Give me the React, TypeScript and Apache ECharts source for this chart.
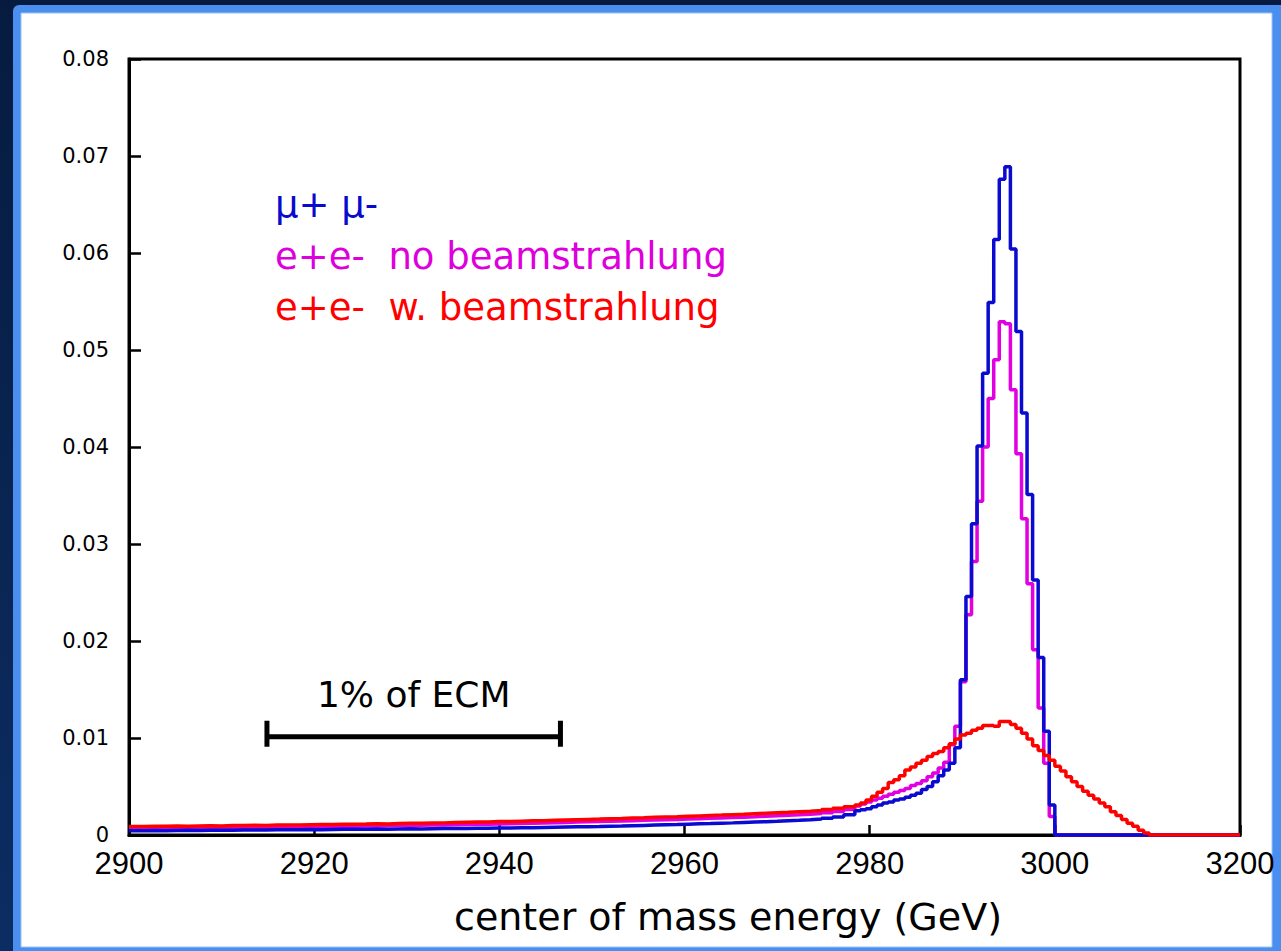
import React, { useEffect, useRef } from "react";
import * as echarts from "echarts";

// ---- axes ----
const X_MIN = 2900;
const X_MAX = 3020;
const X_INTERVAL = 20;
const X_TICK_LABELS = ["2900", "2920", "2940", "2960", "2980", "3000", "3200"];
const Y_MIN = 0;
const Y_MAX = 0.08;
const Y_INTERVAL = 0.01;
const X_TITLE = "center of mass energy (GeV)";

// ---- histogram binning ----
const TAIL_START = 2900.4; // coarse bins in the flat tail
const TAIL_BIN = 1.2;
const PEAK_START = 2978.4; // fine bins in the peak region
const PEAK_BIN = 0.6;

// mu+ mu-
const MUMU_TAIL = [
  0.00045, 0.00046, 0.00045, 0.00047, 0.00048, 0.00047, 0.00049, 0.0005, 0.00049, 0.00051,
  0.00052, 0.00052, 0.00054, 0.00053, 0.00055, 0.00056, 0.00055, 0.00057, 0.00058, 0.00059,
  0.0006, 0.00061, 0.0006, 0.00062, 0.00064, 0.00063, 0.00065, 0.00066, 0.00067, 0.00068,
  0.00069, 0.0007, 0.00072, 0.00073, 0.00075, 0.00076, 0.00078, 0.0008, 0.00082, 0.00084,
  0.00086, 0.00088, 0.00091, 0.00093, 0.00096, 0.00099, 0.00102, 0.00105, 0.00108, 0.00112,
  0.00115, 0.00118, 0.00122, 0.00125, 0.00129, 0.00133, 0.00137, 0.00141, 0.00146, 0.00151,
  0.00157, 0.00164, 0.00172, 0.00185, 0.0021,
];
const MUMU_PEAK = [
  0.0025, 0.0026, 0.0027, 0.0029, 0.0031, 0.0033, 0.0034, 0.0036, 0.0037, 0.0039,
  0.0041, 0.0043, 0.0047, 0.005, 0.0055, 0.0061, 0.0067, 0.0074, 0.009,
  0.016, 0.0246, 0.0321, 0.0401, 0.0476, 0.0549, 0.0614, 0.0676, 0.0689, 0.0604,
  0.0519, 0.0435, 0.0351, 0.0263, 0.0183, 0.0107, 0.0031,
];

// e+e- no beamstrahlung
const EE_NOBS_TAIL = [
  0.00068, 0.0007, 0.00069, 0.00071, 0.00072, 0.00074, 0.00073, 0.00075, 0.00077, 0.00078,
  0.00079, 0.00081, 0.0008, 0.00083, 0.00084, 0.00086, 0.00085, 0.00088, 0.0009, 0.00091,
  0.00093, 0.00094, 0.00096, 0.00097, 0.00099, 0.00101, 0.00102, 0.00104, 0.00106, 0.00108,
  0.0011, 0.00112, 0.00114, 0.00116, 0.00119, 0.00121, 0.00124, 0.00127, 0.0013, 0.00133,
  0.00136, 0.00139, 0.00142, 0.00145, 0.00148, 0.00151, 0.00154, 0.00157, 0.00161, 0.00165,
  0.00168, 0.00172, 0.00176, 0.0018, 0.00184, 0.00188, 0.00193, 0.00198, 0.00203, 0.00208,
  0.00214, 0.00221, 0.0023, 0.00243, 0.00262,
];
const EE_NOBS_PEAK = [
  0.003, 0.0032, 0.0034, 0.0036, 0.0038, 0.004, 0.0042, 0.0044, 0.0046, 0.0048,
  0.0051, 0.0053, 0.0056, 0.006, 0.0064, 0.0069, 0.0075, 0.0093, 0.0112,
  0.0158, 0.0227, 0.0282, 0.0344, 0.04, 0.045, 0.049, 0.0529, 0.0527, 0.0459,
  0.0393, 0.0326, 0.0259, 0.0191, 0.0131, 0.0074, 0.0019,
];

// e+e- with beamstrahlung
const EE_BS_TAIL = [
  0.00088, 0.0009, 0.00089, 0.00092, 0.00091, 0.00094, 0.00095, 0.00094, 0.00097, 0.00098,
  0.001, 0.00099, 0.00102, 0.00104, 0.00103, 0.00106, 0.00108, 0.00107, 0.0011, 0.00112,
  0.00113, 0.00115, 0.00114, 0.00118, 0.0012, 0.00121, 0.00124, 0.00125, 0.00128, 0.00131,
  0.00133, 0.00135, 0.00138, 0.0014, 0.00143, 0.00146, 0.00148, 0.00152, 0.00155, 0.00158,
  0.00161, 0.00164, 0.00168, 0.00171, 0.00175, 0.00178, 0.00182, 0.00186, 0.00189, 0.00193,
  0.00197, 0.00201, 0.00205, 0.0021, 0.00214, 0.00219, 0.00224, 0.00229, 0.00234, 0.0024,
  0.00246, 0.00253, 0.00262, 0.00275, 0.0029,
];
const EE_BS_PEAK = [
  0.0031, 0.0033, 0.0036, 0.004, 0.0044, 0.0048, 0.0054, 0.0057, 0.0061, 0.0067,
  0.007, 0.0074, 0.0077, 0.0081, 0.0084, 0.0086, 0.009, 0.0094, 0.0099, 0.0103,
  0.0105, 0.0108, 0.011, 0.0113, 0.0113, 0.0112, 0.0117, 0.0117, 0.0114, 0.011,
  0.0105, 0.0099, 0.0092, 0.0087, 0.0082, 0.0077,
  0.0071, 0.0066, 0.006, 0.0055, 0.005, 0.0045, 0.0041, 0.0037, 0.0033, 0.0029,
  0.0024, 0.002, 0.0016, 0.0012, 0.0009, 0.0005, 0.0002,
];

const LEGEND_LABELS = ["\u03bc+ \u03bc-", "e+e-  no beamstrahlung", "e+e-  w. beamstrahlung"];
const COLORS = { mumu: "#0a0ad0", noBs: "#e000e0", bs: "#ff0000" };
const LEGEND_COLORS = ["#0a0acc", "#dd00dd", "#ff0000"];

// "1% of ECM" scale bar (data units)
const SCALE_LABEL = "1% of ECM";
const SCALE_BAR_START = 2914.9;
const SCALE_BAR_END = 2946.6;
const SCALE_BAR_Y = 0.01013;

function histogramPoints(tail: number[], peak: number[]) {
  const pts: number[][] = [];
  pts.push([X_MIN, tail[0]]);
  tail.forEach((v, i) => pts.push([+(TAIL_START + i * TAIL_BIN).toFixed(2), v]));
  peak.forEach((v, i) => pts.push([+(PEAK_START + i * PEAK_BIN).toFixed(2), v]));
  const end = +(PEAK_START + peak.length * PEAK_BIN).toFixed(2);
  pts.push([end, 0]);
  pts.push([X_MAX, 0]);
  return pts;
}

const FONT = "DejaVu Sans";

export default function App() {
  const ref = useRef<HTMLDivElement>(null);
  useEffect(() => {
    if (!ref.current) return;
    const chart = echarts.init(ref.current, null, { renderer: "svg" });
    const mkSeries = (name: string, data: number[][], color: string) => ({
      type: "line",
      name,
      data,
      step: "end",
      symbol: "none",
      lineStyle: { color, width: 3.5 },
      itemStyle: { color },
      silent: true,
    });
    chart.setOption({
      animation: false,
      backgroundColor: new echarts.graphic.LinearGradient(0, 0, 0, 1, [
        { offset: 0, color: "#061b3f" },
        { offset: 1, color: "#0c2d63" },
      ]),
      grid: {
        left: 129,
        top: 59,
        width: 1111,
        height: 776,
        show: true,
        borderColor: "#000",
        borderWidth: 3,
        backgroundColor: "#fff",
      },
      xAxis: {
        type: "value",
        min: X_MIN,
        max: X_MAX,
        interval: X_INTERVAL,
        axisLine: { show: true, onZero: false, lineStyle: { color: "#000", width: 3 } },
        axisTick: { show: true, inside: true, length: 10, lineStyle: { color: "#000", width: 2.5 } },
        splitLine: { show: false },
        axisLabel: {
          color: "#000",
          fontFamily: "Liberation Sans",
          fontSize: 31,
          margin: 13,
          formatter: (v: number) => X_TICK_LABELS[Math.round((v - X_MIN) / X_INTERVAL)] ?? "",
        },
      },
      yAxis: {
        type: "value",
        min: Y_MIN,
        max: Y_MAX,
        interval: Y_INTERVAL,
        axisLine: { show: true, lineStyle: { color: "#000", width: 3 } },
        axisTick: { show: true, inside: true, length: 12, lineStyle: { color: "#000", width: 2.5 } },
        splitLine: { show: false },
        axisLabel: {
          color: "#000",
          fontFamily: FONT,
          fontSize: 21,
          margin: 20,
          formatter: (v: number) => (v === 0 ? "0" : v.toFixed(2)),
        },
      },
      series: [
        mkSeries(LEGEND_LABELS[1], histogramPoints(EE_NOBS_TAIL, EE_NOBS_PEAK), COLORS.noBs),
        mkSeries(LEGEND_LABELS[0], histogramPoints(MUMU_TAIL, MUMU_PEAK), COLORS.mumu),
        mkSeries(LEGEND_LABELS[2], histogramPoints(EE_BS_TAIL, EE_BS_PEAK), COLORS.bs),
      ],
    });

    const p0 = chart.convertToPixel({ gridIndex: 0 }, [SCALE_BAR_START, SCALE_BAR_Y]) as number[];
    const p1 = chart.convertToPixel({ gridIndex: 0 }, [SCALE_BAR_END, SCALE_BAR_Y]) as number[];
    const barStyle = { stroke: "#000", lineWidth: 5 };

    chart.setOption({
      graphic: [
        // slide frame
        { type: "rect", z: -10, silent: true, shape: { x: 13, y: 5, width: 1300, height: 1000, r: 6 }, style: { fill: "#4a8ef0" } },
        { type: "rect", z: -9, silent: true, shape: { x: 21, y: 13, width: 1251, height: 934 }, style: { fill: "#ffffff", stroke: "#9cc2f7", lineWidth: 1 } },
        // legend texts
        ...LEGEND_LABELS.map((t, i) => ({
          type: "text",
          left: 275,
          top: 186 + i * 51.5,
          silent: true,
          style: { text: t, fill: LEGEND_COLORS[i], font: `37px '${FONT}'` },
        })),
        // scale bar
        {
          type: "text",
          x: (p0[0] + p1[0]) / 2,
          y: p0[1] - 42,
          silent: true,
          style: { text: SCALE_LABEL, fill: "#000", font: `36px '${FONT}'`, align: "center", verticalAlign: "middle" },
        },
        { type: "line", silent: true, shape: { x1: p0[0], y1: p0[1], x2: p1[0], y2: p1[1] }, style: barStyle },
        { type: "line", silent: true, shape: { x1: p0[0], y1: p0[1] - 16, x2: p0[0], y2: p0[1] + 10 }, style: barStyle },
        { type: "line", silent: true, shape: { x1: p1[0], y1: p1[1] - 16, x2: p1[0], y2: p1[1] + 10 }, style: barStyle },
        // x axis title
        {
          type: "text",
          x: 728,
          y: 917,
          silent: true,
          style: { text: X_TITLE, fill: "#000", font: `38px '${FONT}'`, align: "center", verticalAlign: "middle" },
        },
      ],
    });

    return () => chart.dispose();
  }, []);
  return (
    <div
      ref={ref}
      style={{ position: "fixed", left: 0, top: 0, width: 1281, height: 951 }}
    />
  );
}
